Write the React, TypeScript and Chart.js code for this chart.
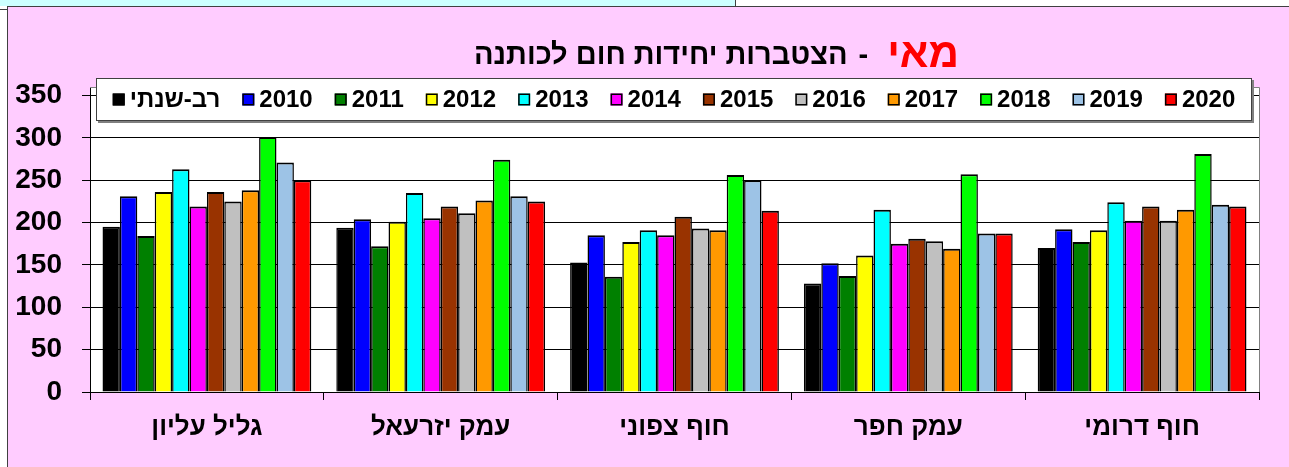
import React, { useEffect, useRef } from "react";
import { Chart, registerables } from "chart.js";

Chart.register(...registerables);

// ---------- DATA ----------
const categories = ["גליל עליון", "עמק יזרעאל", "חוף צפוני", "עמק חפר", "חוף דרומי"];
const seriesLabels = ["רב-שנתי", "2010", "2011", "2012", "2013", "2014", "2015", "2016", "2017", "2018", "2019", "2020"];
const seriesColors = ["#000000", "#0000FF", "#008000", "#FFFF00", "#00FFFF", "#FF00FF", "#993300", "#C0C0C0", "#FF9900", "#00FF00", "#9DC3E6", "#FF0000"];

const multiYear = [195, 194, 153, 128, 170];
const y2010 = [231, 204, 185, 152, 192];
const y2011 = [184, 172, 136, 137, 177];
const y2012 = [236, 201, 177, 161, 191];
const y2013 = [263, 235, 191, 215, 224];
const y2014 = [219, 205, 185, 175, 202];
const y2015 = [236, 219, 207, 181, 219];
const y2016 = [225, 211, 193, 178, 202];
const y2017 = [238, 226, 191, 169, 215];
const y2018 = [301, 274, 256, 257, 281];
const y2019 = [271, 231, 250, 187, 221];
const y2020 = [250, 225, 214, 187, 219];
const seriesValues = [multiYear, y2010, y2011, y2012, y2013, y2014, y2015, y2016, y2017, y2018, y2019, y2020];

const yTicks = [0, 50, 100, 150, 200, 250, 300, 350];
const yMax = 360;

const titleMonth = "מאי";
const titleDash = "-";
const titleRest = "הצטברות יחידות חום לכותנה";

const FONT = '"Liberation Sans", Arial, "DejaVu Sans", sans-serif';

// ---------- PLUGINS ----------
const plotBoxPlugin = {
  id: "plotBox",
  beforeDraw(chart: any) {
    const { ctx, chartArea: a } = chart;
    ctx.save();
    ctx.fillStyle = "#FFFFFF";
    ctx.fillRect(a.left, a.top, a.right - a.left, a.bottom - a.top);
    ctx.restore();
  },
  afterDraw(chart: any) {
    const { ctx, chartArea: a } = chart;
    ctx.save();
    ctx.strokeStyle = "#808080";
    ctx.lineWidth = 1;
    ctx.beginPath();
    ctx.moveTo(a.left, a.top + 0.5);
    ctx.lineTo(a.right + 0.5, a.top + 0.5);
    ctx.lineTo(a.right + 0.5, a.bottom);
    ctx.stroke();
    ctx.restore();
  },
};

const titlePlugin = {
  id: "richTitle",
  afterDraw(chart: any) {
    const { ctx, chartArea: a } = chart;
    ctx.save();
    ctx.textAlign = "left";
    ctx.textBaseline = "alphabetic";
    const blackFont = `bold 29px ${FONT}`;
    const redFont = `bold 42px ${FONT}`;
    ctx.font = blackFont;
    const wRest = ctx.measureText(titleRest).width;
    const wDash = ctx.measureText(titleDash).width;
    const gapBefore = 11;
    const gapAfter = 19;
    ctx.font = redFont;
    const wMonth = ctx.measureText(titleMonth).width;
    const total = wRest + gapBefore + wDash + gapAfter + wMonth;
    const cx = (a.left + a.right) / 2 + 42;
    let x = cx - total / 2;
    ctx.font = blackFont;
    ctx.fillStyle = "#000000";
    ctx.fillText(titleRest, x, 57);
    x += wRest + gapBefore;
    ctx.fillText(titleDash, x, 57);
    x += wDash + gapAfter;
    ctx.font = redFont;
    ctx.fillStyle = "#FF0000";
    ctx.fillText(titleMonth, x, 60);
    ctx.restore();
  },
};

const legendPlugin = {
  id: "boxLegend",
  afterDraw(chart: any) {
    const { ctx, chartArea: a } = chart;
    const left = a.left + 6;
    const right = a.right - 7;
    const top = a.top - 9;
    const bottom = a.top + 34;
    ctx.save();
    ctx.fillStyle = "#808080";
    ctx.fillRect(left + 2, top + 2, right - left, bottom - top);
    ctx.fillStyle = "#FFFFFF";
    ctx.fillRect(left, top, right - left, bottom - top);
    ctx.strokeStyle = "#404040";
    ctx.lineWidth = 1;
    ctx.strokeRect(left + 0.5, top + 0.5, right - left - 1, bottom - top - 1);

    ctx.font = `bold 24px ${FONT}`;
    ctx.textBaseline = "middle";
    ctx.textAlign = "left";
    const box = 12;
    const boxGap = 5;
    const itemGap = 22;
    const items = chart.data.datasets.map((d: any) => ({
      label: d.label,
      color: d.backgroundColor,
      w: ctx.measureText(d.label).width,
    }));
    const totalW = items.reduce((s: number, it: any) => s + box + boxGap + it.w, 0) + itemGap * (items.length - 1);
    let x = (left + right) / 2 - totalW / 2;
    const cy = (top + bottom) / 2;
    for (const it of items) {
      ctx.fillStyle = it.color;
      ctx.fillRect(x, cy - box / 2, box, box);
      ctx.strokeStyle = "#000000";
      ctx.lineWidth = 1.5;
      ctx.strokeRect(x + 0.75, cy - box / 2 + 0.75, box - 1.5, box - 1.5);
      ctx.fillStyle = "#000000";
      ctx.fillText(it.label, x + box + boxGap, cy + 1);
      x += box + boxGap + it.w + itemGap;
    }
    ctx.restore();
  },
};

export default function App() {
  const canvasRef = useRef<HTMLCanvasElement | null>(null);

  useEffect(() => {
    document.body.style.margin = "0";
    const canvas = canvasRef.current;
    if (!canvas) return;
    const chart = new Chart(canvas, {
      type: "bar",
      data: {
        labels: categories,
        datasets: seriesLabels.map((label, i) => ({
          label,
          data: seriesValues[i],
          backgroundColor: seriesColors[i],
          borderColor: "#000000",
          borderWidth: { top: 2, left: 1.5, right: 1.5, bottom: 0 },
          borderSkipped: "bottom",
          barPercentage: 1,
          categoryPercentage: 0.893,
        })),
      },
      plugins: [plotBoxPlugin, titlePlugin, legendPlugin],
      options: {
        responsive: false,
        animation: false,
        devicePixelRatio: 1,
        layout: { padding: { top: 80, right: 30, left: 0, bottom: 0 } },
        plugins: {
          legend: { display: false },
          title: { display: false },
          tooltip: { enabled: false },
        },
        scales: {
          x: {
            grid: {
              display: true,
              drawOnChartArea: false,
              drawTicks: true,
              tickLength: 8,
              color: "#000000",
              lineWidth: 1,
              offset: true,
            },
            border: { display: true, color: "#000000", width: 1 },
            ticks: {
              font: { family: FONT, size: 26, weight: "bold" },
              color: "#000000",
              padding: 12,
              maxRotation: 0,
              autoSkip: false,
            },
            afterFit(scale: any) {
              scale.height = 75;
            },
          },
          y: {
            min: 0,
            max: yMax,
            grid: {
              color: "#000000",
              lineWidth: 1,
              tickLength: 8,
              drawTicks: true,
            },
            border: { display: true, color: "#000000", width: 1 },
            ticks: {
              stepSize: 50,
              font: { family: FONT, size: 28, weight: "bold" },
              color: "#000000",
              padding: 20,
            },
            afterBuildTicks(scale: any) {
              scale.ticks = yTicks.map((v) => ({ value: v }));
            },
            afterFit(scale: any) {
              scale.width = 82;
            },
          },
        },
      } as any,
    });
    return () => chart.destroy();
  }, []);

  return (
    <div style={{ position: "relative", width: 1289, height: 467, background: "#FFFFFF", overflow: "hidden" }}>
      <div style={{ position: "absolute", left: 0, top: 0, width: 735, height: 6, background: "#CCFFFF" }} />
      <div style={{ position: "absolute", left: 735, top: 0, width: 1, height: 6, background: "#404040" }} />
      <div style={{ position: "absolute", left: 0, top: 9, width: 7, height: 1, background: "#404040" }} />
      <div
        style={{
          position: "absolute",
          left: 7,
          top: 6,
          right: 0,
          bottom: 0,
          borderLeft: "1px solid #404040",
          borderTop: "1px solid #404040",
          background: "#FFCCFF",
        }}
      />
      <canvas
        ref={canvasRef}
        width={1281}
        height={460}
        style={{ position: "absolute", left: 8, top: 7, width: 1281, height: 460 }}
      />
    </div>
  );
}
